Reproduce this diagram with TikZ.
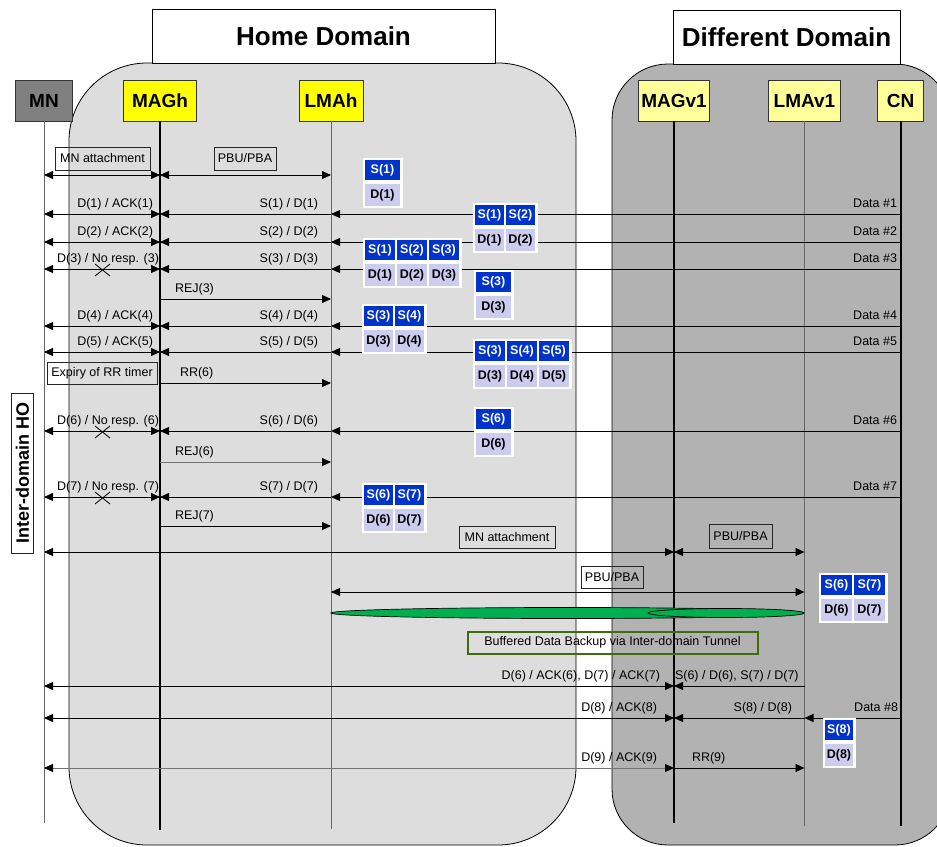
\documentclass[tikz,border=0pt]{standalone}
\usepackage{fontspec}
\setmainfont{Liberation Sans}
\usetikzlibrary{arrows.meta}

\definecolor{homefill}{HTML}{DDDDDD}
\definecolor{visitfill}{HTML}{B2B2B2}
\definecolor{nodegray}{HTML}{808080}
\definecolor{homeyellow}{HTML}{FFFF00}
\definecolor{paleyellow}{HTML}{FFFF99}
\definecolor{seqblue}{HTML}{0033CC}
\definecolor{datafill}{HTML}{CCCCEE}
\definecolor{tunnelgreen}{HTML}{00B050}
\definecolor{tunnelframe}{RGB}{60,110,10}

% buffer table: #1 name, #2 left x, #3 top y, #4 cell pitch, #5 count, #6 sequence numbers
\newcommand{\bufgrid}[6]{%
  \fill[white] (#2,#3) rectangle ({#2+#5*#4+3},{#3+50});
  \foreach \v [count=\k from 0] in {#6} {
    \node[scell, minimum width={#4-2}] (#1s\k) at ({#2+2+\k*#4+(#4-2)/2},{#3+12}) {S(\v)};
    \node[dcell, minimum width={#4-2}] (#1d\k) at ({#2+2+\k*#4+(#4-2)/2},{#3+37}) {D(\v)};
  }%
}

\begin{document}
\begin{tikzpicture}[x=1pt,y=-1pt,
  every node/.style={inner sep=0pt, outer sep=0pt},
  entity/.style={draw=black!80, line width=0.8pt, minimum height=41pt,
    font=\fontsize{19}{20}\selectfont\bfseries},
  life/.style={line width=0.9pt, draw=black!60},
  lifebold/.style={line width=2pt, draw=black},
  tip/.tip={Triangle[length=9pt,width=8pt,color=black]},
  msg/.style={line width=0.9pt, -tip},
  dmsg/.style={line width=0.9pt, tip-tip},
  lbl/.style={font=\fontsize{12.5}{14}\selectfont},
  tagbox/.style={draw=black!85, line width=0.8pt, font=\fontsize{12.5}{14}\selectfont},
  scell/.style={fill=seqblue, text=white, minimum height=20pt,
    font=\fontsize{12.5}{14}\selectfont\bfseries},
  dcell/.style={fill=datafill, text=black, minimum height=22pt,
    font=\fontsize{12.5}{14}\selectfont\bfseries},
  cross/.style={line width=0.8pt}]

\useasboundingbox (0,0) rectangle (937,846);
\clip (0,0) rectangle (937,846);

% domains
\draw[fill=homefill, line width=0.8pt, rounded corners=78pt] (69,63) rectangle (576,845);
\draw[fill=visitfill, line width=0.8pt, rounded corners=56pt] (612,64) rectangle (951,845);
\node[draw, fill=white, line width=0.8pt, minimum width=343pt, minimum height=54pt,
  font=\fontsize{26}{28}\selectfont\bfseries] (home) at (323.5,36) {Home Domain};
\node[draw, fill=white, line width=0.8pt, minimum width=227pt, minimum height=54pt,
  font=\fontsize{26}{28}\selectfont\bfseries] (diff) at (786.5,37) {Different Domain};

% entities
\node[entity, fill=nodegray, minimum width=57pt] (MN) at (44,100.5) {MN};
\node[entity, fill=homeyellow, minimum width=73pt] (MAGh) at (160,100.5) {MAGh};
\node[entity, fill=homeyellow, minimum width=64pt] (LMAh) at (331,100.5) {LMAh};
\node[entity, fill=paleyellow, minimum width=71pt] (MAGv) at (674,100.5) {MAGv1};
\node[entity, fill=paleyellow, minimum width=72pt] (LMAv) at (804.5,100.5) {LMAv1};
\node[entity, fill=paleyellow, minimum width=46pt] (CN) at (900.5,100.5) {CN};

% lifelines
\draw[life] (MN.south) -- (MN.south |- 0,823);
\draw[lifebold] (MAGh.south) -- (MAGh.south |- 0,830);
\draw[life] (LMAh.south) -- (LMAh.south |- 0,829);
\draw[lifebold] (MAGv.south) -- (MAGv.south |- 0,823);
\draw[life] (LMAv.south) -- (LMAv.south |- 0,826);
\draw[lifebold] (CN.south) -- (CN.south |- 0,826);

% attachment in the home domain
\node[tagbox, minimum width=95pt, minimum height=23pt] (att1) at (102.5,158.5) {MN attachment};
\node[tagbox, minimum width=62pt, minimum height=23pt] (pbu1) at (245,158.5) {PBU/PBA};
\draw[dmsg] (MN |- 0,175) -- (MAGh |- 0,175);
\draw[dmsg] (MAGh |- 0,175) -- (LMAh |- 0,175);

% data rows acknowledged by the MN
\foreach \y/\n in {214/1, 242/2, 326/4, 352/5} {
  \draw[dmsg] (MN |- 0,\y) -- (MAGh |- 0,\y);
  \draw[msg] (LMAh |- 0,\y) -- (MAGh |- 0,\y);
  \draw[msg] (CN |- 0,\y) -- (LMAh |- 0,\y);
  \node[lbl, anchor=base east] at (153,\y-7) {D(\n) / ACK(\n)};
  \node[lbl, anchor=base east] at (318,\y-7) {S(\n) / D(\n)};
  \node[lbl, anchor=base east] at (897,\y-7) {Data \#\n};
}
% data rows lost on the radio link
\foreach \y/\n in {269/3, 431/6, 497/7} {
  \draw[dmsg] (MN |- 0,\y) -- (MAGh |- 0,\y);
  \draw[msg] (LMAh |- 0,\y) -- (MAGh |- 0,\y);
  \draw[msg] (CN |- 0,\y) -- (LMAh |- 0,\y);
  \node[lbl, anchor=base east] at (159,\y-7) {D(\n) / No resp. (\n)};
  \node[lbl, anchor=base east] at (318,\y-7) {S(\n) / D(\n)};
  \node[lbl, anchor=base east] at (897,\y-7) {Data \#\n};
  \draw[cross] (95,\y-5) -- (110,\y+7) (95,\y+7) -- (110,\y-5);
}

% reject and receiver-ready messages
\foreach \y/\c in {299/black, 462/black!55, 526/black, 383/black} {
  \draw[msg, draw=\c] (MAGh |- 0,\y) -- (LMAh |- 0,\y);
}
\node[lbl, anchor=base west] at (175,292) {REJ(3)};
\node[lbl, anchor=base west] at (180,376) {RR(6)};
\node[lbl, anchor=base west] at (175,455) {REJ(6)};
\node[lbl, anchor=base west] at (175,519) {REJ(7)};
\node[tagbox, minimum width=110pt, minimum height=22pt] (rrt) at (102,373) {Expiry of RR timer};

% handover label
\node[draw=black!85, line width=0.8pt, rotate=90, minimum width=160pt, minimum height=22pt,
  font=\fontsize{18}{20}\selectfont\bfseries] (ho) at (22.5,473) {Inter-domain HO};

% attachment in the different domain
\node[tagbox, minimum width=96pt, minimum height=22pt] (att2) at (507,537) {MN attachment};
\node[tagbox, minimum width=63pt, minimum height=24pt] (pbu2) at (740.5,536) {PBU/PBA};
\draw[dmsg] (MN |- 0,552) -- (MAGv |- 0,552);
\draw[dmsg] (MAGv |- 0,552) -- (LMAv |- 0,552);
\node[tagbox, minimum width=62pt, minimum height=22pt] (pbu3) at (612,577) {PBU/PBA};
\draw[dmsg] (LMAh |- 0,592) -- (LMAv |- 0,592);

% inter-domain tunnel
\draw[fill=tunnelgreen, line width=0.7pt] (567.5,613) ellipse [x radius=236.5pt, y radius=5.5pt];
\draw[fill=tunnelgreen, line width=0.7pt] (726,613) ellipse [x radius=78pt, y radius=4.5pt];
\draw[draw=tunnelframe, line width=2pt] (467.5,631.5) rectangle (757.5,653.5);
\node[font=\fontsize{12.5}{14}\selectfont] (tun) at (612.5,642.5) {Buffered Data Backup via Inter-domain Tunnel};

% delivery after handover
\draw[dmsg] (MN |- 0,686) -- (MAGv |- 0,686);
\draw[msg] (LMAv |- 0,686) -- (MAGv |- 0,686);
\node[lbl, anchor=base east] at (660,679) {D(6) / ACK(6), D(7) / ACK(7)};
\node[lbl, anchor=base west] at (675,679) {S(6) / D(6), S(7) / D(7)};

\draw[dmsg] (MN |- 0,718) -- (MAGv |- 0,718);
\draw[msg] (LMAv |- 0,718) -- (MAGv |- 0,718);
\draw[msg] (CN |- 0,718) -- (LMAv |- 0,718);
\node[lbl, anchor=base east] at (657,711) {D(8) / ACK(8)};
\node[lbl, anchor=base east] at (792,711) {S(8) / D(8)};
\node[lbl, anchor=base east] at (898,711) {Data \#8};

\draw[dmsg, draw=black!55] (MN |- 0,768) -- (MAGv |- 0,768);
\draw[msg] (MAGv |- 0,768) -- (LMAv |- 0,768);
\node[lbl, anchor=base east] at (657,761) {D(9) / ACK(9)};
\node[lbl, anchor=base west] at (692,761) {RR(9)};

% buffered sequence tables
\bufgrid{ba}{363}{158}{37}{1}{1}
\bufgrid{bb}{473}{203}{31}{2}{1,2}
\bufgrid{bc}{363}{238}{32}{3}{1,2,3}
\bufgrid{bd}{474}{270}{37}{1}{3}
\bufgrid{be}{362}{304}{31}{2}{3,4}
\bufgrid{bf}{473}{339}{32}{3}{3,4,5}
\bufgrid{bg}{474}{407}{37}{1}{6}
\bufgrid{bh}{362}{483}{31}{2}{6,7}
\bufgrid{bi}{819}{573}{33}{2}{6,7}
\bufgrid{bj}{823}{718}{30}{1}{8}

\end{tikzpicture}
\end{document}
